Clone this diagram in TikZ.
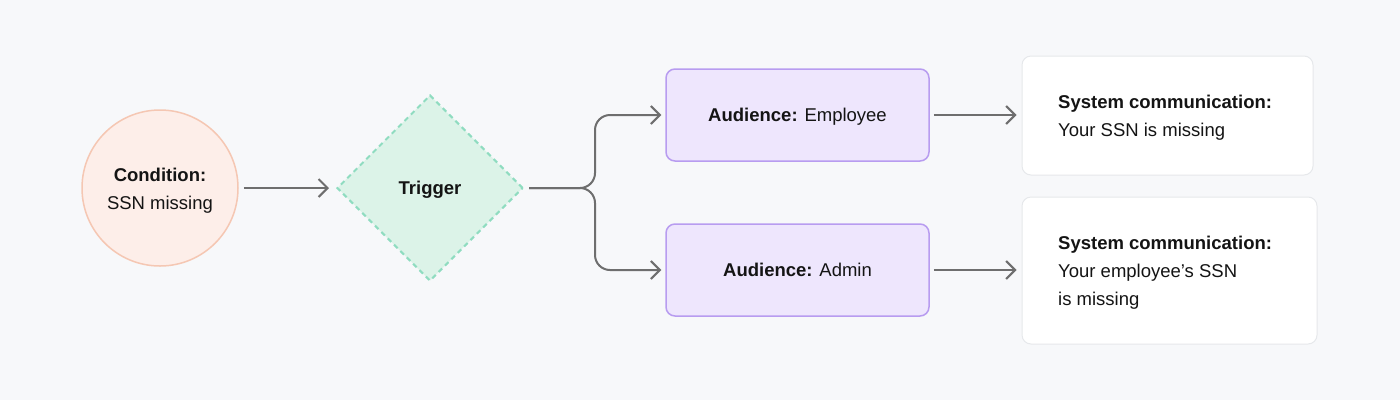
\documentclass[tikz,border=0pt]{standalone}
\usepackage{fontspec}
\setmainfont{Liberation Sans}
\usetikzlibrary{arrows.meta,shapes.geometric}
\definecolor{bgc}{HTML}{F7F8FA}
\definecolor{condfill}{HTML}{FDEEE9}
\definecolor{conddraw}{HTML}{F5C7B3}
\definecolor{trigfill}{HTML}{DCF3E8}
\definecolor{trigdraw}{HTML}{8FDCC0}
\definecolor{audfill}{HTML}{EEE6FD}
\definecolor{auddraw}{HTML}{B89CF0}
\definecolor{msgdraw}{HTML}{E6E8EB}
\definecolor{arrc}{HTML}{6E6E6E}
\definecolor{txt}{HTML}{141414}
\tikzset{
  basefont/.style={font=\fontsize{18.5}{28}\selectfont, text=txt},
  condnode/.style={circle, fill=condfill, draw=conddraw, line width=1.5pt, minimum size=156pt, inner sep=0pt},
  condtext/.style={basefont, align=center, inner sep=0pt},
  trignode/.style={basefont, text depth=-2pt, diamond, fill=trigfill, draw=trigdraw, line width=2pt, dash pattern=on 5pt off 4pt, minimum width=186pt, minimum height=186pt, inner sep=0pt},
  audnode/.style={basefont, text depth=0pt, rectangle, rounded corners=9pt, fill=audfill, draw=auddraw, line width=1.5pt, minimum width=263pt, minimum height=92pt},
  msgbox/.style={rectangle, rounded corners=9pt, fill=white, draw=msgdraw, line width=1pt, inner sep=0pt},
  msgtext/.style={basefont, align=left, anchor=west, inner sep=0pt},
  conn/.style={draw=arrc, line width=2pt, -{Straight Barb[length=9pt,width=18pt,line width=2pt]}},
}
\begin{document}
\begin{tikzpicture}[x=1pt,y=-1pt]
\fill[bgc] (0,0) rectangle (1400,400);
\useasboundingbox (0,0) rectangle (1400,400);

\node[condnode] (cond) at (160,188) {};
\node[condtext] (condt) at (160,190.5) {\textbf{Condition:}\\SSN missing};
\node[trignode] (trig) at (430,188) {\textbf{Trigger}};
\node[audnode] (emp) at (797.5,115) {\textbf{Audience:} Employee};
\node[audnode] (adm) at (797.5,270) {\textbf{Audience:} Admin};
\node[msgbox, minimum width=291pt, minimum height=119pt] (msg1) at (1167.5,115.5) {};
\node[msgbox, minimum width=295pt, minimum height=147pt] (msg2) at (1169.5,270.5) {};
\node[msgtext] (msg1t) at (1058,118) {\textbf{System communication:}\\Your SSN is missing};
\node[msgtext] (msg2t) at (1058,272.5) {\textbf{System communication:}\\Your employee’s SSN\\is missing};

\coordinate (fork) at (595,188);

\draw[conn, shorten <=5pt, shorten >=7pt] (cond.east) -- (trig.west);
\draw[conn, rounded corners=15pt, shorten <=5pt, shorten >=4pt] (trig.east) -- (fork) |- (emp.west);
\draw[conn, rounded corners=15pt, shorten <=5pt, shorten >=4pt] (trig.east) -- (fork) |- (adm.west);
\draw[conn, shorten <=4pt, shorten >=5pt] (emp.east) -- (msg1.west |- emp.east);
\draw[conn, shorten <=4pt, shorten >=5pt] (adm.east) -- (msg2.west |- adm.east);
\end{tikzpicture}
\end{document}
